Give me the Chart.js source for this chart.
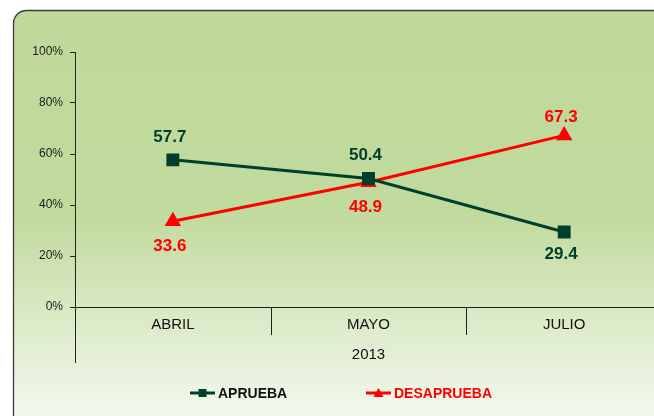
<!DOCTYPE html>
<html>
<head>
<meta charset="utf-8">
<script src="https://cdn.jsdelivr.net/npm/chart.js@4/dist/chart.umd.min.js"></script>
<style>
  html, body { margin: 0; padding: 0; background: #fff; overflow: hidden; }
  #wrap { width: 654px; height: 416px; overflow: hidden; position: relative; }
  canvas { position: absolute; left: 0; top: 0; }
</style>
</head>
<body>
<div id="wrap"><canvas id="chart" width="672" height="416"></canvas></div>
<script>
// datos del grafico
var categories = ['ABRIL', 'MAYO', 'JULIO'];
var groupLabel = '2013';
var seriesNames = ['APRUEBA', 'DESAPRUEBA'];
var aprueba = [57.7, 50.4, 29.4];
var desaprueba = [33.6, 48.9, 67.3];
var yTicks = [0, 20, 40, 60, 80, 100];

var GREEN = '#00402a';
var RED = '#ff0000';
var FONT = "'Liberation Sans', Arial, sans-serif";

// donde va la etiqueta de cada punto (arriba / abajo)
var labelPos = [
  ['top', 'top', 'bottom'],
  ['bottom', 'bottom', 'top']
];
// color del texto de la leyenda y su posicion x
var legendText = ['#111111', RED];
var legendX = [190, 366];

// fondo con borde redondeado
var backgroundPlugin = {
  id: 'fondo',
  beforeDraw: function (chart) {
    var ctx = chart.ctx;
    ctx.save();
    ctx.fillStyle = '#ffffff';
    ctx.fillRect(0, 0, chart.width, chart.height);

    var x = 13.5, y = 10.5, w = chart.width + 40, h = 440, r = 13;
    ctx.beginPath();
    ctx.moveTo(x + r, y);
    ctx.lineTo(x + w - r, y);
    ctx.arcTo(x + w, y, x + w, y + r, r);
    ctx.lineTo(x + w, y + h - r);
    ctx.arcTo(x + w, y + h, x + w - r, y + h, r);
    ctx.lineTo(x + r, y + h);
    ctx.arcTo(x, y + h, x, y + h - r, r);
    ctx.lineTo(x, y + r);
    ctx.arcTo(x, y, x + r, y, r);
    ctx.closePath();

    var grad = ctx.createLinearGradient(0, 10, 0, 416);
    grad.addColorStop(0, '#c0d99b');
    grad.addColorStop(0.5, '#c1da9d');
    grad.addColorStop(1, '#f3f8ee');
    ctx.fillStyle = grad;
    ctx.fill();
    ctx.lineWidth = 1.3;
    ctx.strokeStyle = '#3a3a3a';
    ctx.stroke();
    ctx.restore();
  }
};

// separadores del eje x, etiqueta de grupo y leyenda
var extrasPlugin = {
  id: 'extras',
  afterDraw: function (chart) {
    var ctx = chart.ctx;
    var xs = chart.scales.x;
    var area = chart.chartArea;
    ctx.save();
    ctx.strokeStyle = '#222222';
    ctx.lineWidth = 1;

    // linea del eje y prolongada hasta abajo
    ctx.beginPath();
    ctx.moveTo(Math.round(area.left) + 0.5, area.bottom);
    ctx.lineTo(Math.round(area.left) + 0.5, area.bottom + 56);
    ctx.stroke();

    // separadores entre categorias
    for (var i = 0; i < categories.length - 1; i++) {
      var px = (xs.getPixelForValue(i) + xs.getPixelForValue(i + 1)) / 2;
      ctx.beginPath();
      ctx.moveTo(Math.round(px) + 0.5, area.bottom);
      ctx.lineTo(Math.round(px) + 0.5, area.bottom + 28);
      ctx.stroke();
    }

    // etiqueta del grupo
    ctx.fillStyle = '#111111';
    ctx.font = '15px ' + FONT;
    ctx.textAlign = 'center';
    ctx.textBaseline = 'middle';
    ctx.fillText(groupLabel, (area.left + area.right) / 2, area.bottom + 48);

    // leyenda
    chart.data.datasets.forEach(function (ds, d) {
      var lx = legendX[d], ly = 393;
      ctx.strokeStyle = ds.borderColor;
      ctx.lineWidth = 3;
      ctx.beginPath();
      ctx.moveTo(lx, ly);
      ctx.lineTo(lx + 25, ly);
      ctx.stroke();
      ctx.fillStyle = ds.borderColor;
      if (ds.pointStyle === 'rect') {
        ctx.fillRect(lx + 8.5, ly - 4, 8, 8);
      } else {
        ctx.beginPath();
        ctx.moveTo(lx + 12.5, ly - 5);
        ctx.lineTo(lx + 17.5, ly + 4);
        ctx.lineTo(lx + 7.5, ly + 4);
        ctx.closePath();
        ctx.fill();
      }
      ctx.fillStyle = legendText[d];
      ctx.font = 'bold 14px ' + FONT;
      ctx.textAlign = 'left';
      ctx.fillText(ds.label, lx + 28, ly + 1);
    });
    ctx.restore();
  }
};

// etiquetas de los valores
var valueLabels = {
  id: 'valores',
  afterDatasetsDraw: function (chart) {
    var ctx = chart.ctx;
    ctx.save();
    ctx.font = 'bold 17px ' + FONT;
    ctx.textAlign = 'center';
    ctx.textBaseline = 'middle';
    chart.data.datasets.forEach(function (ds, d) {
      var meta = chart.getDatasetMeta(d);
      meta.data.forEach(function (pt, i) {
        var up = labelPos[d][i] === 'top';
        var dy;
        if (d === 0) dy = up ? -23 : 22;
        else dy = up ? -18 : 25;
        ctx.fillStyle = ds.borderColor;
        ctx.fillText(ds.data[i].toFixed(1), pt.x - 3, pt.y + dy);
      });
    });
    ctx.restore();
  }
};

new Chart(document.getElementById('chart'), {
  type: 'line',
  data: {
    labels: categories,
    datasets: [
      {
        label: seriesNames[0],
        data: aprueba,
        borderColor: GREEN,
        backgroundColor: GREEN,
        borderWidth: 3,
        pointStyle: 'rect',
        pointRadius: 7,
        pointHoverRadius: 7,
        tension: 0
      },
      {
        label: seriesNames[1],
        data: desaprueba,
        borderColor: RED,
        backgroundColor: RED,
        borderWidth: 3,
        pointStyle: 'triangle',
        pointRadius: 6.5,
        pointHoverRadius: 6.5,
        tension: 0
      }
    ]
  },
  options: {
    responsive: false,
    animation: false,
    devicePixelRatio: 1,
    layout: { padding: { left: 0, top: 52, right: 8, bottom: 0 } },
    plugins: {
      legend: { display: false },
      tooltip: { enabled: false },
      title: { display: false }
    },
    scales: {
      x: {
        type: 'category',
        offset: true,
        grid: { display: false, drawTicks: false },
        border: { display: true, color: '#222222', width: 1 },
        ticks: {
          color: '#111111',
          font: { family: FONT, size: 15 },
          padding: 9,
          maxRotation: 0
        },
        afterFit: function (s) { s.height = 416 - 307; }
      },
      y: {
        min: yTicks[0],
        max: yTicks[yTicks.length - 1],
        afterBuildTicks: function (s) {
          s.ticks = yTicks.map(function (v) { return { value: v }; });
        },
        grid: { drawOnChartArea: false, drawTicks: true, tickLength: 5, color: '#222222' },
        border: { display: true, color: '#222222', width: 1 },
        ticks: {
          color: '#1a1a1a',
          font: { family: FONT, size: 12 },
          padding: 7,
          callback: function (v) { return v + '%'; }
        },
        afterFit: function (s) { s.width = 75; }
      }
    }
  },
  plugins: [backgroundPlugin, extrasPlugin, valueLabels]
});
</script>
</body>
</html>
